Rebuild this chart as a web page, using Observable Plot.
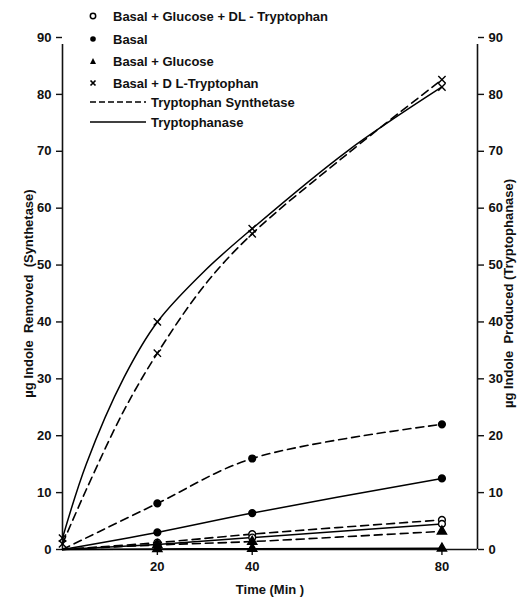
<!DOCTYPE html>
<html><head><meta charset="utf-8">
<script src="https://cdn.jsdelivr.net/npm/d3@7"></script>
<script src="https://cdn.jsdelivr.net/npm/@observablehq/plot@0.6"></script>
<style>
body{margin:0;background:#fff;font-family:"Liberation Sans",Arial,sans-serif;}
#wrap{position:relative;width:529px;height:599px;}
#legend{position:absolute;left:0;top:0;font-size:13px;font-weight:bold;color:#111;}
.row{position:absolute;white-space:nowrap;display:flex;align-items:center;height:20px;}
.row svg{margin-right:6px;}
</style></head><body><div id="wrap"><div id="chart"></div><div id="legend"></div></div>
<script>
// measured time points (min)
const times = [0, 20, 40, 80];
// Tryptophan Synthetase (dashed)  -- µg indole removed
const synthBasalGlucoseDLTrp = [0, 1.2, 2.7, 5.2];
const synthBasal = [0, 8.1, 16, 22];
const synthBasalGlucose = [0, 0.8, 1.4, 3.2];
const synthBasalDLTrp = [1, 34.5, 55.5, 82.6];
// Tryptophanase (solid) -- µg indole produced
const tryptBasalGlucoseDLTrp = [0, 0.9, 2.1, 4.5];
const tryptBasal = [0, 3, 6.4, 12.5];
const tryptBasalGlucose = [0, 0.1, 0.15, 0.2];
const tryptBasalDLTrp = [2, 40, 56.4, 81.3];
// hand-drawn curve path of the DL-tryptophan curves
const traceTimes = [0, 5, 13, 20, 30, 40, 60, 80];
const synthDLTrpTrace = [1, 10.5, 24.5, 34.5, 46.5, 55.5, 69.5, 82.6];
const tryptDLTrpTrace = [2, 15, 30.3, 40, 49, 56.4, 70, 81.3];

const yTicks = [0, 10, 20, 30, 40, 50, 60, 70, 80, 90];
const xTicks = [20, 40, 80];

const conditions = [
  {name: "Basal + Glucose + DL - Tryptophan", symbol: "circle", fill: "white", synth: synthBasalGlucoseDLTrp, trypt: tryptBasalGlucoseDLTrp},
  {name: "Basal", symbol: "circle", fill: "black", synth: synthBasal, trypt: tryptBasal},
  {name: "Basal + Glucose", symbol: "triangle", fill: "black", synth: synthBasalGlucose, trypt: tryptBasalGlucose},
  {name: "Basal + D L-Tryptophan", symbol: "times", fill: "none", synth: synthBasalDLTrp, trypt: tryptBasalDLTrp,
   synthTrace: synthDLTrpTrace, tryptTrace: tryptDLTrpTrace}
];
const rows = [];
const lineRows = [];
for (const c of conditions) {
  for (const enzyme of ["synth", "trypt"]) {
    c[enzyme].forEach((v, i) => rows.push({cond: c.name, enzyme, t: times[i], v, symbol: c.symbol, fill: c.fill}));
    const trace = c[enzyme + "Trace"];
    if (trace) trace.forEach((v, i) => lineRows.push({cond: c.name, enzyme, t: traceTimes[i], v}));
    else c[enzyme].forEach((v, i) => lineRows.push({cond: c.name, enzyme, t: times[i], v}));
  }
}
const synthRows = lineRows.filter(d => d.enzyme === "synth");
const tryptRows = lineRows.filter(d => d.enzyme === "trypt");
const markRows = rows.filter(d => d.t > 0 || d.cond === "Basal + D L-Tryptophan");

const font = '"Liberation Sans", Arial, sans-serif';
const chart = Plot.plot({
  width: 529, height: 599,
  marginLeft: 62, marginRight: 52, marginTop: 37, marginBottom: 50,
  x: {domain: [0, 87.5]},
  y: {domain: [0, 90]},
  style: {fontFamily: font, fontSize: "13px", fontWeight: "bold", color: "#111", background: "white"},
  marks: [
    Plot.ruleX([0, 87.5], {y1: 0, y2: 90, insetBottom: -7, strokeWidth: 1.6}),
    Plot.ruleY([0], {strokeWidth: 1.6}),
    Plot.axisY({anchor: "left", ticks: yTicks, tickSize: 6, tickPadding: 5, strokeWidth: 1.4, label: "µg Indole  Removed  (Synthetase)", labelArrow: "none", labelAnchor: "center", labelOffset: 39}),
    Plot.axisY({anchor: "right", ticks: yTicks, tickSize: 6, tickPadding: 5, strokeWidth: 1.4, label: "µg Indole  Produced (Tryptophanase)", labelArrow: "none", labelAnchor: "center", labelOffset: 35}),
    Plot.axisX({ticks: xTicks, tickSize: 6, tickPadding: 6, strokeWidth: 1.4, label: "Time (Min )", labelArrow: "none", labelAnchor: "center", labelOffset: 44}),
    Plot.line(synthRows, {x: "t", y: "v", z: "cond", curve: "catmull-rom", stroke: "black", strokeWidth: 1.6, strokeDasharray: "8,5"}),
    Plot.line(tryptRows, {x: "t", y: "v", z: "cond", curve: "catmull-rom", stroke: "black", strokeWidth: 1.5}),
    Plot.dot(markRows, {x: "t", y: "v", symbol: "symbol", fill: "fill", stroke: "black", strokeWidth: 1.4, r: 3.4})
  ]
});
document.getElementById("chart").append(chart);

// legend
const legend = document.getElementById("legend");
const legendItems = [
  {label: "Basal + Glucose + DL - Tryptophan", kind: "o"},
  {label: "Basal", kind: "dot"},
  {label: "Basal + Glucose", kind: "tri"},
  {label: "Basal + D L-Tryptophan", kind: "x"},
  {label: "Tryptophan  Synthetase", kind: "dash"},
  {label: "Tryptophanase", kind: "solid"}
];
const rowTops = [6, 29, 51, 73, 92, 112];
legendItems.forEach((it, i) => {
  const row = document.createElement("div");
  row.className = "row";
  row.style.top = rowTops[i] + "px";
  let svg;
  if (it.kind === "dash" || it.kind === "solid") {
    row.style.left = "89px";
    svg = `<svg width="58" height="10"><line x1="1" x2="57" y1="5" y2="5" stroke="black" stroke-width="1.5" ${it.kind === "dash" ? 'stroke-dasharray="6,3"' : ""}/></svg>`;
    row.innerHTML = svg + `<span style="margin-left:-2px">${it.label}</span>`;
  } else {
    row.style.left = "88px";
    let sym = "";
    if (it.kind === "o") sym = '<circle cx="5" cy="5" r="2.7" fill="white" stroke="black" stroke-width="1.5"/>';
    if (it.kind === "dot") sym = '<circle cx="5" cy="5" r="2.8" fill="black"/>';
    if (it.kind === "tri") sym = '<path d="M5,2 L8,8 L2,8 Z" fill="black"/>';
    if (it.kind === "x") sym = '<path d="M2.5,2.5 L7.5,7.5 M7.5,2.5 L2.5,7.5" stroke="black" stroke-width="1.7"/>';
    row.innerHTML = `<svg width="10" height="10">${sym}</svg><span style="margin-left:9px">${it.label}</span>`;
  }
  legend.append(row);
});
</script></body></html>
